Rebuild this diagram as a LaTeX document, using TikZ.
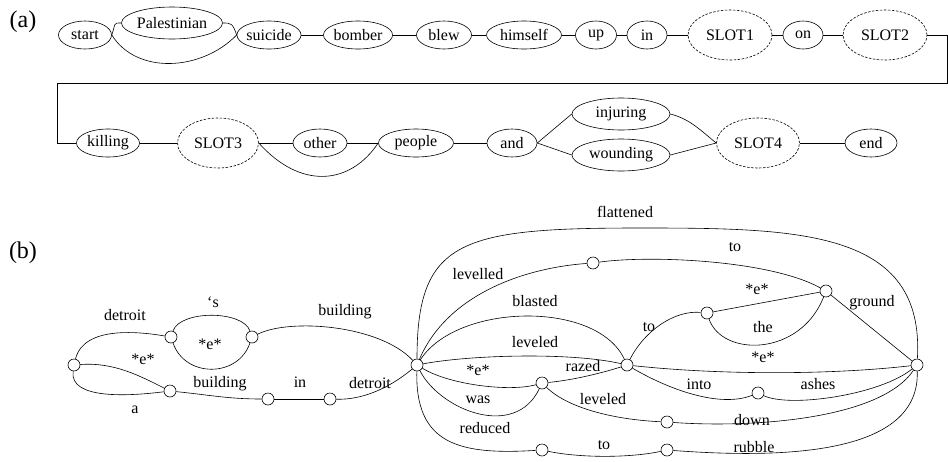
\documentclass[tikz,border=0pt]{standalone}
\usepackage{fontspec}
\setmainfont{Liberation Serif}
\usetikzlibrary{shapes.geometric}
\tikzset{
    every node/.style={font=\fontsize{16}{19}\selectfont}, % all texts
    word/.style={ellipse, draw, inner sep=0pt, minimum width=52pt, minimum height=28pt},
    slot/.style={word, dash pattern=on 2.5pt off 1.5pt, minimum width=84pt, minimum height=50pt},
    vtx/.style={circle, draw, fill=white, inner sep=0pt, minimum size=12pt},
    lbl/.style={inner sep=0pt},
    tag/.style={inner sep=0pt, font=\fontsize{24}{28}\selectfont},
}

\begin{document}
\begin{tikzpicture}[x=1pt, y=-1pt, line width=0.6pt]
        \useasboundingbox (0,0) rectangle (948,461);

        % (a) Nodes
        \node[tag] (tagA) at (23,22) {(a)};
        \node[word, minimum width=53pt] (start) at (85,35) {start};
        \node[word, minimum width=101pt, minimum height=32pt] (pal) at (172,23) {Palestinian};
        \node[word, minimum width=62pt] (suicide) at (269,35) {suicide};
        \node[word, minimum width=63pt] (bomber) at (358,35) {bomber};
        \node[word, minimum width=55pt] (blew) at (444,35) {blew};
        \node[word, minimum width=75pt] (himself) at (524,35) {himself};
        \node[word, minimum width=41pt] (up) at (596,35) {up};
        \node[word, minimum width=40pt] (in) at (647,35) {in};
        \node[slot] (slot1) at (730,35) {SLOT1};
        \node[word, minimum width=40pt] (on) at (803,35) {on};
        \node[slot] (slot2) at (885,35) {SLOT2};

        \node[word, minimum width=63pt] (killing) at (108,143) {killing};
        \node[slot, minimum width=81pt] (slot3) at (218,143) {SLOT3};
        \node[word, minimum width=54pt] (other) at (320,143) {other};
        \node[word, minimum width=75pt] (people) at (416,143) {people};
        \node[word, minimum width=50pt] (and) at (512,143) {and};
        \node[word, minimum width=98pt, minimum height=32pt] (injuring) at (621,114) {injuring};
        \node[word, minimum width=98pt, minimum height=32pt] (wounding) at (621,155) {wounding};
        \node[slot, minimum width=83pt] (slot4) at (758,143) {SLOT4};
        \node[word, minimum width=52pt] (end) at (871,143) {end};

        \coordinate (wrapA) at (947,83);
        \coordinate (wrapB) at (57,143);

        % (a) Draw lines
        \draw (start.east) .. controls +(4,-12) and +(-8,0) .. (pal.west);
        \draw (pal.east) .. controls +(8,0) and +(-4,-12) .. (suicide.west);
        \draw (start.east) .. controls +(25,40) and +(-35,36) .. (suicide.west);
        \draw (suicide) -- (bomber) -- (blew) -- (himself) -- (up) -- (in) -- (slot1) -- (on) -- (slot2);
        \draw (slot2.east) -| (wrapA) -| (wrapB) -- (killing.west);
        \draw (killing) -- (slot3) -- (other) -- (people) -- (and);
        \draw (slot3.east) .. controls +(42,47) and +(-28,42) .. (people.west);
        \draw (and.east) -- (injuring.west);
        \draw (and.east) -- (wounding.west);
        \draw (injuring.east) .. controls +(20,5) and +(-15,-12) .. (slot4.west);
        \draw (wounding.east) -- (slot4.west);
        \draw (slot4) -- (end);

        % (b) Nodes
        \node[tag] (tagB) at (23,253) {(b)};
        \node[vtx] (q0) at (74,365) {};
        \node[vtx] (q1) at (171,337) {};
        \node[vtx] (q2) at (252,337) {};
        \node[vtx] (q3) at (170,391) {};
        \node[vtx] (q4) at (268,399) {};
        \node[vtx] (q5) at (330,399) {};
        \node[vtx] (hub) at (417,365) {};
        \node[vtx] (t1) at (593,263) {};
        \node[vtx] (t2) at (707,313) {};
        \node[vtx] (tr) at (826,291) {};
        \node[vtx] (rz) at (627,365) {};
        \node[vtx] (m) at (542,383) {};
        \node[vtx] (i) at (758,393) {};
        \node[vtx] (d) at (667,422) {};
        \node[vtx] (b1) at (542,450) {};
        \node[vtx] (b2) at (667,450) {};
        \node[vtx] (R) at (917,365) {};
        \coordinate (top) at (640,228);

        % (b) Draw lines
        \draw (q0) .. controls +(10,-40) and +(-30,-5) .. (q1);
        \draw (q1) .. controls +(9,-27) and +(-9,-27) .. (q2);
        \draw (q1) .. controls +(14,41) and +(-14,41) .. (q2);
        \draw (q2) .. controls +(38,-19) and +(-37,-40) .. (hub);
        \draw (q0) .. controls +(40,-3) and +(-30,-15) .. (q3);
        \draw (q0) .. controls +(-5,35) and +(-40,5) .. (q3);
        \draw (q3) .. controls +(40,4) and +(-40,0) .. (q4);
        \draw (q4) -- (q5);
        \draw (q5) .. controls +(30,1) and +(-30,25) .. (hub);

        \draw (hub) .. controls +(0,-125) and +(-180,0) .. (top)
                    .. controls +(160,0) and +(8,-135) .. (R);
        \draw (hub) .. controls +(30,-70) and +(-70,5) .. (t1);
        \draw (t1) .. controls +(57,-8) and +(-56,-31) .. (tr);
        \draw (hub) .. controls +(40,-62) and +(-30,-65) .. (rz);
        \draw (hub) .. controls +(53,-10) and +(-57,-13) .. (rz);
        \draw (hub) .. controls +(33,20) and +(-32,9) .. (m);
        \draw (hub) .. controls +(23,45) and +(-27,57) .. (m);
        \draw (m) .. controls +(33,-3) and +(-22,7) .. (rz);
        \draw (m) .. controls +(28,27) and +(-47,-2) .. (d);
        \draw (rz) .. controls +(18,-35) and +(-32,-3) .. (t2);
        \draw (t2) -- (tr);
        \draw (t2) .. controls +(15,44) and +(-26,66) .. (tr);
        \draw (tr) -- (R);
        \draw (rz) .. controls +(93,10) and +(-87,10) .. (R);
        \draw (rz) .. controls +(43,25) and +(-38,15) .. (i);
        \draw (i) .. controls +(32,15) and +(-37,30) .. (R);
        \draw (d) .. controls +(83,6) and +(-37,55) .. (R);
        \draw (hub) .. controls +(-2,80) and +(-82,5) .. (b1);
        \draw (b1) .. controls +(38,8) and +(-37,8) .. (b2);
        \draw (b2) .. controls +(133,10) and +(3,85) .. (R);

        % (b) Labels
        \node[lbl] (l1) at (125,315) {detroit};
        \node[lbl] (l2) at (213,302) {\textquoteleft s};
        \node[lbl] (l3) at (210,344) {*e*};
        \node[lbl] (l4) at (345,312) {building};
        \node[lbl] (l5) at (143,359) {*e*};
        \node[lbl] (l6) at (135,410) {a};
        \node[lbl] (l7) at (220,384) {building};
        \node[lbl] (l8) at (300,382) {in};
        \node[lbl] (l9) at (370,383) {detroit};
        \node[lbl] (l10) at (625,212) {flattened};
        \node[lbl] (l11) at (735,247) {to};
        \node[lbl] (l12) at (478,274) {levelled};
        \node[lbl] (l13) at (535,301) {blasted};
        \node[lbl] (l14) at (757,289) {*e*};
        \node[lbl] (l15) at (872,303) {ground};
        \node[lbl] (l16) at (649,327) {to};
        \node[lbl] (l17) at (763,327) {the};
        \node[lbl] (l18) at (535,342) {leveled};
        \node[lbl] (l19) at (763,357) {*e*};
        \node[lbl] (l20) at (478,370) {*e*};
        \node[lbl] (l21) at (583,366) {razed};
        \node[lbl] (l22) at (699,384) {into};
        \node[lbl] (l23) at (818,384) {ashes};
        \node[lbl] (l24) at (478,400) {was};
        \node[lbl] (l25) at (603,399) {leveled};
        \node[lbl] (l26) at (752,420) {down};
        \node[lbl] (l27) at (485,428) {reduced};
        \node[lbl] (l28) at (604,445) {to};
        \node[lbl] (l29) at (754,447) {rubble};
\end{tikzpicture}
\end{document}
